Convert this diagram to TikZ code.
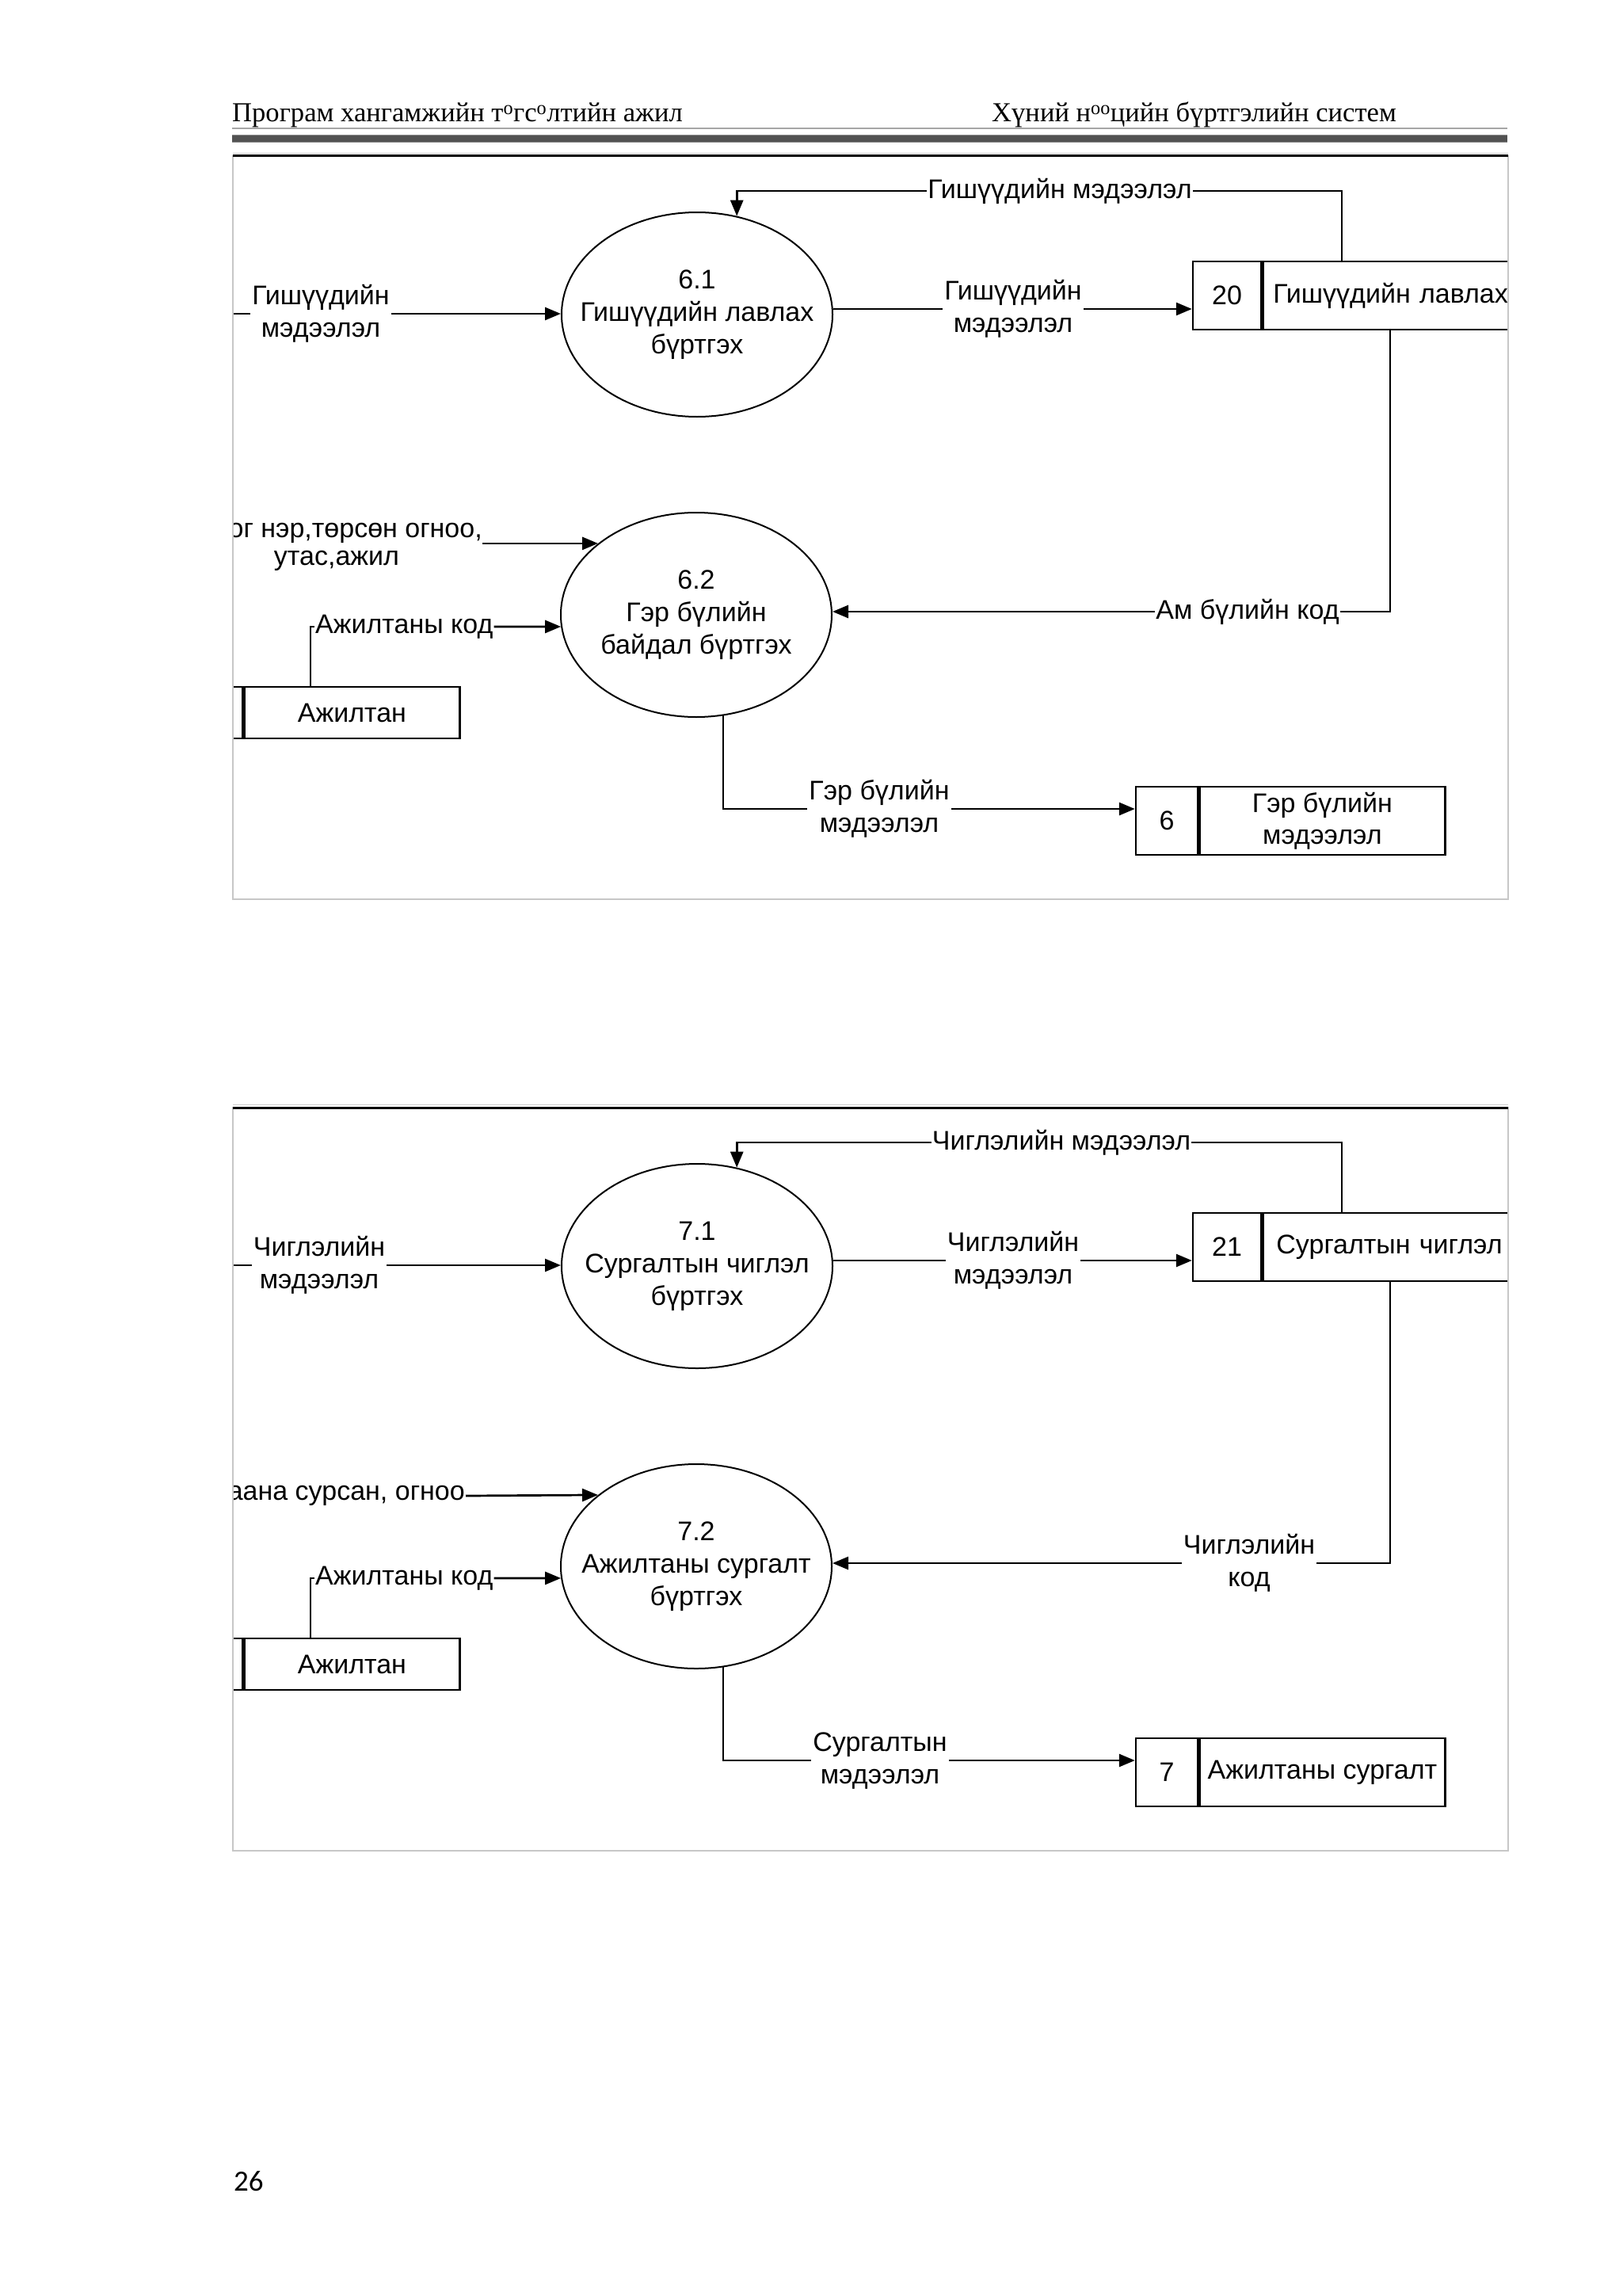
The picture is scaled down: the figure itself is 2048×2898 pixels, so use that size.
\documentclass[tikz,border=0pt]{standalone}
\usepackage{fontspec}
\setmainfont{Liberation Serif}
\newfontfamily\dfdfont{Liberation Sans}
\newfontfamily\pgfont{Carlito}
\usetikzlibrary{shapes.geometric,arrows.meta,calc}
\tikzset{
  conn/.style={line width=2.7pt, draw=black},
  arr/.style={conn, -{Triangle[length=20pt,width=16pt]}},
  proc/.style={ellipse, draw, line width=2pt, minimum width=342pt, minimum height=258pt, inner sep=0pt},
  dtext/.style={font=\dfdfont\fontsize{34pt}{41pt}\selectfont, align=center, inner sep=2pt},
  store/.style={rectangle, draw, line width=2.4pt, inner sep=0pt, minimum height=86pt, font=\dfdfont\fontsize{34pt}{40pt}\selectfont, align=center},
  framegray/.style={draw=black!22, line width=2pt},
  frametop/.style={draw=black, line width=3pt},
  hdrfont/.style={font=\fontsize{34.6pt}{40pt}\selectfont, inner sep=0pt, anchor=base west}
}
\begin{document}
\begin{tikzpicture}[x=1pt,y=-1pt]
\useasboundingbox (0,0) rectangle (2048,2898);

% ---------- header ----------
\node[hdrfont] (hl) at (293,154) {Програм хангамжийн т\textsuperscript{o}гс\textsuperscript{o}лтийн ажил};
\node[hdrfont] (hr) at (1252,154) {Хүний н\textsuperscript{oo}цийн бүртгэлийн систем};
\draw[line width=1.5pt, black!35] (293,162) -- (1903,162);
\fill[black!68] (293,171) rectangle (1903,179);
\draw[line width=1pt, black!45] (293,170.5) -- (1903,170.5);
\draw[line width=1pt, black!45] (293,179.5) -- (1903,179.5);

% ---------- diagram 1 ----------
\begin{scope}
\draw[line width=1pt, black!20] (294,193.5) -- (1904,193.5);
\begin{scope}
\clip (294,197) rectangle (1904,1135);
\node[proc, label={[dtext]center:{6.1\\Гишүүдийн лавлах\\бүртгэх}}] (e61) at (880,397) {};
\coordinate (in61) at (280,396);
\node[dtext] (l61in) at (405,396) {Гишүүдийн\\мэдээлэл};
\draw[conn] (in61) -- (l61in.west);
\draw[arr] (l61in.east) -- (e61.west |- l61in);

\node[store, minimum width=86pt] (s20id) at (1549,373) {20};
\node[store, anchor=west, text width=360pt, align=left, inner xsep=13pt] (s20nm) at (s20id.east) {Гишүүдийн лавлах};

\node[dtext] (l61out) at (1279,390) {Гишүүдийн\\мэдээлэл};
\draw[conn] (e61.east |- l61out) -- (l61out.west);
\draw[arr] (l61out.east) -- (s20id.west |- l61out);

\coordinate (c61a) at (1694,241);
\node[dtext, inner sep=1pt] (l61top) at (1338,241) {Гишүүдийн мэдээлэл};
\draw[conn] (s20nm.north -| c61a) -- (c61a) -- (l61top.east);
\draw[arr] (l61top.west) -- (l61top.west -| e61.68) -- (e61.68);

\node[proc, label={[dtext]center:{6.2\\Гэр бүлийн\\байдал бүртгэх}}] (e62) at (879,776) {};

\node[dtext, anchor=east, inner sep=0pt] (l62a) at (609,673) {ог нэр,төрсөн огноо,};
\node[dtext, inner sep=0pt] (l62b) at (425,708) {утас,ажил};
\draw[arr] (l62a.east |- e62.144) -- (e62.144);

\node[store, minimum width=86pt, minimum height=65pt] (aj1id) at (263,899.5) {};
\node[store, minimum width=272pt, minimum height=65pt, anchor=west] (aj1nm) at (aj1id.east) {Ажилтан};
\coordinate (c62c) at (392,791);
\node[dtext, anchor=west, inner sep=1pt] (l62c) at (397,791) {Ажилтаны код};
\draw[conn] (aj1nm.north -| c62c) -- (c62c) -- (l62c.west);
\draw[arr] (l62c.east) -- (e62.185);

\node[store, minimum width=78pt] (s6id) at (1473,1036) {6};
\node[store, minimum width=310pt, anchor=west] (s6nm) at (s6id.east) {Гэр бүлийн\\мэдээлэл};
\node[dtext] (l62d) at (1110,1021) {Гэр бүлийн\\мэдээлэл};
\draw[conn] (e62.-75) -- (e62.-75 |- l62d) -- (l62d.west);
\draw[arr] (l62d.east) -- (s6id.west |- l62d);

\coordinate (c62e) at (1755,772);
\node[dtext, inner sep=1pt] (l62e) at (1575,772) {Ам бүлийн код};
\draw[conn] (s20nm.south -| c62e) -- (c62e) -- (l62e.east);
\draw[arr] (l62e.west) -- (e62.east |- l62e);
\end{scope}
\draw[framegray] (294,197) rectangle (1904,1135);
\draw[frametop] (294,197) -- (1904,197);
\end{scope}

% ---------- diagram 2 ----------
\begin{scope}[yshift=-1201pt]
\draw[line width=1pt, black!20] (294,193.5) -- (1904,193.5);
\begin{scope}
\clip (294,197) rectangle (1904,1135);
\node[proc, label={[dtext]center:{7.1\\Сургалтын чиглэл\\бүртгэх}}] (e71) at (880,397) {};
\coordinate (in71) at (280,396);
\node[dtext] (l71in) at (403,396) {Чиглэлийн\\мэдээлэл};
\draw[conn] (in71) -- (l71in.west);
\draw[arr] (l71in.east) -- (e71.west |- l71in);

\node[store, minimum width=86pt] (s21id) at (1549,373) {21};
\node[store, anchor=west, text width=360pt, align=left, inner xsep=17pt] (s21nm) at (s21id.east) {Сургалтын чиглэл};

\node[dtext] (l71out) at (1279,390) {Чиглэлийн\\мэдээлэл};
\draw[conn] (e71.east |- l71out) -- (l71out.west);
\draw[arr] (l71out.east) -- (s21id.west |- l71out);

\coordinate (c71a) at (1694,241);
\node[dtext, inner sep=1pt] (l71top) at (1340,241) {Чиглэлийн мэдээлэл};
\draw[conn] (s21nm.north -| c71a) -- (c71a) -- (l71top.east);
\draw[arr] (l71top.west) -- (l71top.west -| e71.68) -- (e71.68);

\node[proc, label={[dtext]center:{7.2\\Ажилтаны сургалт\\бүртгэх}}] (e72) at (879,776) {};

\node[dtext, anchor=east, inner sep=1pt] (l72a) at (588,687) {аана сурсан, огноо};
\draw[arr] (l72a.east) -- (e72.144);

\node[store, minimum width=86pt, minimum height=65pt] (aj2id) at (263,899.5) {};
\node[store, minimum width=272pt, minimum height=65pt, anchor=west] (aj2nm) at (aj2id.east) {Ажилтан};
\coordinate (c72c) at (392,791);
\node[dtext, anchor=west, inner sep=1pt] (l72c) at (397,791) {Ажилтаны код};
\draw[conn] (aj2nm.north -| c72c) -- (c72c) -- (l72c.west);
\draw[arr] (l72c.east) -- (e72.185);

\node[store, minimum width=78pt] (s7id) at (1473,1036) {7};
\node[store, minimum width=310pt, anchor=west] (s7nm) at (s7id.east) {Ажилтаны сургалт};
\node[dtext] (l72d) at (1111,1021) {Сургалтын\\мэдээлэл};
\draw[conn] (e72.-75) -- (e72.-75 |- l72d) -- (l72d.west);
\draw[arr] (l72d.east) -- (s7id.west |- l72d);

\coordinate (c72e) at (1755,772);
\node[dtext] (l72e) at (1577,772) {Чиглэлийн\\код};
\draw[conn] (s21nm.south -| c72e) -- (c72e) -- (l72e.east);
\draw[arr] (l72e.west) -- (e72.east |- l72e);
\end{scope}
\draw[framegray] (294,197) rectangle (1904,1135);
\draw[frametop] (294,197) -- (1904,197);
\end{scope}

% ---------- page number ----------
\node[anchor=base west, inner sep=0pt, font=\pgfont\fontsize{37pt}{44pt}\selectfont] (pn) at (295,2765) {26};
\end{tikzpicture}
\end{document}
